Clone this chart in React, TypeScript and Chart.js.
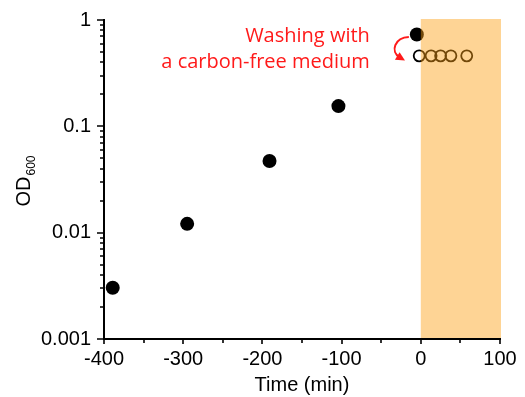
import React, { useEffect, useRef } from "react";
import { Chart, registerables } from "chart.js";

Chart.register(...registerables);

// Growth phase (filled points)
const growthTime = [-389, -295, -191, -104, -5];
const growthOD = [0.00303, 0.0121, 0.0472, 0.155, 0.73];
// After washing into carbon-free medium (open points)
const starveTime = [-2, 13, 25, 38, 58];
const starveOD = [0.46, 0.46, 0.46, 0.46, 0.46];

const xTicks = [-400, -300, -200, -100, 0, 100];
const xMinorTicks = [-350, -250, -150, -50, 50];
const yTicks = [0.001, 0.01, 0.1, 1];
const yTickLabels = ["0.001", "0.01", "0.1", "1"];
const shadeRange = [0, 100];
const annotationLines = ["Washing with", "a carbon-free medium"];

const TICK_FONT = "Liberation Sans, Arial, sans-serif";

const overlayPlugin = {
  id: "overlay",
  afterDatasetsDraw(chart: any) {
    const { ctx, chartArea, scales } = chart;
    const x = scales.x;
    const x0 = x.getPixelForValue(shadeRange[0]);
    const x1 = x.getPixelForValue(shadeRange[1]);
    ctx.save();
    ctx.fillStyle = "rgba(253,160,20,0.45)";
    ctx.fillRect(x0, chartArea.top - 1, x1 - x0 + 1, chartArea.bottom - chartArea.top + 1);
    ctx.restore();
  },
  afterDraw(chart: any) {
    const { ctx, chartArea, scales } = chart;
    const x = scales.x;
    const y = scales.y;
    ctx.save();
    ctx.strokeStyle = "#000";
    ctx.lineWidth = 2;
    // axis lines
    ctx.beginPath();
    ctx.moveTo(chartArea.left, chartArea.top - 1);
    ctx.lineTo(chartArea.left, chartArea.bottom + 1);
    ctx.moveTo(chartArea.left - 1, chartArea.bottom);
    ctx.lineTo(chartArea.right + 1, chartArea.bottom);
    ctx.stroke();
    // x ticks
    ctx.lineWidth = 1.6;
    ctx.beginPath();
    xTicks.forEach((v) => {
      const px = Math.round(x.getPixelForValue(v));
      ctx.moveTo(px, chartArea.bottom);
      ctx.lineTo(px, chartArea.bottom + 5);
    });
    xMinorTicks.forEach((v) => {
      const px = Math.round(x.getPixelForValue(v));
      ctx.moveTo(px, chartArea.bottom);
      ctx.lineTo(px, chartArea.bottom + 4);
    });
    // y ticks
    yTicks.forEach((v, i) => {
      const py = Math.round(y.getPixelForValue(v));
      ctx.moveTo(chartArea.left - 7, py);
      ctx.lineTo(chartArea.left, py);
      if (i < yTicks.length - 1) {
        for (let k = 2; k <= 9; k++) {
          const pm = Math.round(y.getPixelForValue(v * k));
          ctx.moveTo(chartArea.left - 4, pm);
          ctx.lineTo(chartArea.left, pm);
        }
      }
    });
    ctx.stroke();

    // y axis title OD600
    ctx.fillStyle = "#000";
    ctx.translate(30, (chartArea.top + chartArea.bottom) / 2 + 2);
    ctx.rotate(-Math.PI / 2);
    ctx.font = `20px ${TICK_FONT}`;
    const wOD = ctx.measureText("OD").width;
    ctx.font = `12px ${TICK_FONT}`;
    const wSub = ctx.measureText("600").width;
    const start = -(wOD + wSub) / 2;
    ctx.textBaseline = "alphabetic";
    ctx.textAlign = "left";
    ctx.font = `20px ${TICK_FONT}`;
    ctx.fillText("OD", start, 0);
    ctx.font = `12px ${TICK_FONT}`;
    ctx.fillText("600", start + wOD + 1, 5);
    ctx.setTransform(1, 0, 0, 1, 0, 0);

    // annotation text
    const meta = chart.getDatasetMeta(0);
    const last = meta.data[meta.data.length - 1];
    const px = last.x;
    const py = last.y;
    ctx.fillStyle = "#FF1A1A";
    ctx.font = "20px 'Open Sans', sans-serif";
    ctx.textAlign = "right";
    ctx.textBaseline = "middle";
    ctx.fillText(annotationLines[0], px - 47, py + 2);
    ctx.fillText(annotationLines[1], px - 47, py + 28);

    // curved arrow
    ctx.strokeStyle = "#FF1A1A";
    ctx.lineWidth = 2;
    const sx = px - 8, sy = py + 2.5;
    const c1x = px - 22, c1y = py + 3;
    const c2x = px - 27, c2y = py + 17;
    const ex = px - 17, ey = py + 23;
    ctx.beginPath();
    ctx.moveTo(sx, sy);
    ctx.bezierCurveTo(c1x, c1y, c2x, c2y, ex, ey);
    ctx.stroke();
    // arrow head
    const ang = Math.atan2(ey - c2y, ex - c2x);
    const tipX = ex + Math.cos(ang) * 6;
    const tipY = ey + Math.sin(ang) * 6;
    const hl = 9, hw = 4.5;
    const bx = tipX - Math.cos(ang) * hl;
    const by = tipY - Math.sin(ang) * hl;
    ctx.fillStyle = "#FF1A1A";
    ctx.beginPath();
    ctx.moveTo(tipX, tipY);
    ctx.lineTo(bx + Math.sin(ang) * hw, by - Math.cos(ang) * hw);
    ctx.lineTo(bx - Math.sin(ang) * hw, by + Math.cos(ang) * hw);
    ctx.closePath();
    ctx.fill();
    ctx.restore();
  },
};

export default function App() {
  const ref = useRef<HTMLCanvasElement>(null);
  useEffect(() => {
    if (!ref.current) return;
    const chart = new Chart(ref.current, {
      type: "scatter",
      data: {
        datasets: [
          {
            data: growthTime.map((t, i) => ({ x: t, y: growthOD[i] })),
            pointRadius: 7,
            pointBackgroundColor: "#000",
            pointBorderColor: "#000",
            pointBorderWidth: 0,
          },
          {
            data: starveTime.map((t, i) => ({ x: t, y: starveOD[i] })),
            pointRadius: 5.5,
            pointBackgroundColor: "rgba(0,0,0,0)",
            pointBorderColor: "#000",
            pointBorderWidth: 1.8,
          },
        ],
      },
      options: {
        animation: false,
        responsive: false,
        devicePixelRatio: 1,
        layout: { padding: { left: 0, right: 25, top: 20, bottom: 0 } },
        plugins: { legend: { display: false }, tooltip: { enabled: false } },
        scales: {
          x: {
            type: "linear",
            min: -400,
            max: 100,
            afterBuildTicks: (s: any) => {
              s.ticks = xTicks.map((v) => ({ value: v }));
            },
            afterFit: (s: any) => {
              s.height = 58;
              s.paddingLeft = 0;
              s.paddingRight = 0;
            },
            grid: { display: false, drawTicks: false },
            border: { display: false },
            ticks: {
              color: "#000",
              font: { size: 20, family: TICK_FONT },
              padding: 8,
              maxRotation: 0,
              autoSkip: false,
            },
            title: {
              display: true,
              text: "Time (min)",
              color: "#000",
              font: { size: 20, family: TICK_FONT },
              padding: { top: 0, bottom: 0 },
            },
          },
          y: {
            type: "logarithmic",
            min: 0.001,
            max: 1,
            afterBuildTicks: (s: any) => {
              s.ticks = yTicks.map((v) => ({ value: v }));
            },
            afterFit: (s: any) => {
              s.width = 104;
              s.paddingTop = 0;
              s.paddingBottom = 0;
            },
            grid: { display: false, drawTicks: false },
            border: { display: false },
            ticks: {
              color: "#000",
              font: { size: 20, family: TICK_FONT },
              padding: 13,
              autoSkip: false,
              callback: (v: any) => {
                const i = yTicks.indexOf(Number(v));
                return i >= 0 ? yTickLabels[i] : "";
              },
            },
          },
        },
      },
      plugins: [overlayPlugin],
    });
    return () => chart.destroy();
  }, []);
  return (
    <div style={{ position: "absolute", left: 0, top: 0, width: 525, height: 397 }}>
      <canvas ref={ref} width={525} height={397} style={{ width: 525, height: 397 }} />
    </div>
  );
}
